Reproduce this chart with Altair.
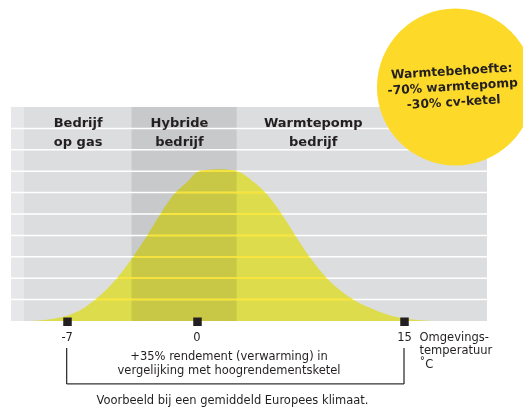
import altair as alt
import numpy as np
import pandas as pd

# ---- values ----
curve_temp = [-8.97, -7.17, -6.27, -5.46, -4.29, -3.42, -2.66, -1.95, -1.14, -0.50, 0.17, 1.73,
              2.94, 4.13, 4.98, 6.16, 7.14, 8.17, 9.43, 11.33, 13.04, 14.34, 17.1]
curve_freq = [0.0, 0.2, 0.5, 1.0, 2.0, 3.0, 4.0, 5.0, 6.0, 6.5, 7.0, 7.09,
              7.0, 6.5, 6.0, 5.0, 4.0, 3.0, 2.0, 1.0, 0.48, 0.2, 0.0]
tick_values = [-7, 0, 15]
grid_levels = [1, 2, 3, 4, 5, 6, 7, 8, 9]
band_start, band_end = -10, 21
strip_end = -9.3
hybrid_start, hybrid_end = -3.5, 2.9
zone_labels = ["Bedrijf\nop gas", "Hybride\nbedrijf", "Warmtepomp\nbedrijf"]
zone_label_temp = [-6.38, -0.92, 8.44]
bubble_text = "Warmtebehoefte:\n-70% warmtepomp\n-30% cv-ketel"
axis_title = ["Omgevings-", "temperatuur", "˚C"]
note_text = "+35% rendement (verwarming) in\nvergelijking met hoogrendementsketel"
footer_text = "Voorbeeld bij een gemiddeld Europees klimaat."

INK = "#231F20"
FONT = "DejaVu Sans"

xs = alt.Scale(domain=[band_start, 0, band_end], range=[0, 185.5, 476], nice=False, zero=False)
ys = alt.Scale(domain=[0, 10], nice=False, zero=False)

x_axis = alt.Axis(
    values=tick_values, orient="bottom", offset=-4, domain=False, grid=False,
    ticks=True, tickSize=8.5, tickWidth=8.5, tickColor=INK, tickCap="butt",
    labelExpr="'' + datum.value", labelFont=FONT, labelFontSize=11.5, labelColor=INK,
    labelPadding=6, title=axis_title, titleFont=FONT, titleFontSize=11.5,
    titleFontWeight="normal", titleColor=INK, titleAlign="left", titleBaseline="top",
    titleX=408, titleY=14, titleAngle=0, titleLineHeight=13.5, zindex=1)


def X(field="x"):
    return alt.X(field, type="quantitative", scale=xs, axis=x_axis)


def Y(field="y"):
    return alt.Y(field, type="quantitative", scale=ys, axis=None)


curve_df = pd.DataFrame({"x": curve_temp, "y": curve_freq})

# gold segments where gridlines pass under the curve
t = np.array(curve_temp)
f = np.array(curve_freq)
ip = int(np.argmax(f))
segs = []
for lv in grid_levels:
    if lv < f.max():
        xl = float(np.interp(lv, f[:ip + 1], t[:ip + 1]))
        xr = float(np.interp(lv, f[ip:][::-1], t[ip:][::-1]))
        segs.append({"x": xl + 0.06, "x2": xr - 0.06, "y": lv})
seg_df = pd.DataFrame(segs)

band = alt.Chart(pd.DataFrame({"x": [band_start], "x2": [band_end], "y": [0], "y2": [10]})).mark_rect(
    color="#DCDDDE").encode(x=X(), x2="x2:Q", y=Y(), y2="y2:Q")

strip = alt.Chart(pd.DataFrame({"x": [band_start], "x2": [strip_end], "y": [0], "y2": [10]})).mark_rect(
    color="#E6E7E8").encode(x=X(), x2="x2:Q", y=Y(), y2="y2:Q")

hybrid = alt.Chart(pd.DataFrame({"x": [hybrid_start], "x2": [hybrid_end], "y": [0], "y2": [10]})).mark_rect(
    color="#C8C9CA").encode(x=X(), x2="x2:Q", y=Y(), y2="y2:Q")

grid = alt.Chart(pd.DataFrame({"y": grid_levels, "x": band_start, "x2": band_end})).mark_rule(
    color="white", strokeWidth=1.5).encode(x=X(), x2="x2:Q", y=Y())

area = alt.Chart(curve_df).mark_area(interpolate="monotone", color="#FFFE58", blend="multiply").encode(
    x=X(), y=Y())

gold = alt.Chart(seg_df).mark_rule(color="#F9E23A", strokeWidth=1.5).encode(x=X(), x2="x2:Q", y=Y())

headers = alt.Chart(pd.DataFrame({"label": zone_labels, "x": zone_label_temp, "y": 9.27})).mark_text(
    font=FONT, fontSize=13, fontWeight="bold", color=INK, lineBreak="\n", lineHeight=19,
    align="center", baseline="middle").encode(x=X(), y=Y(), text="label:N")

bubble = alt.Chart(pd.DataFrame({"x": [18.72], "y": [10.93]})).mark_circle(
    size=24649, color="#FDDA2A", opacity=1).encode(x=X(), y=Y())

bubble_lbl = alt.Chart(pd.DataFrame({"x": [18.45], "y": [11.68], "label": [bubble_text]})).mark_text(
    font=FONT, fontSize=12.3, fontWeight="bold", color=INK, lineBreak="\n", lineHeight=15.5,
    align="center", baseline="middle", angle=356.5).encode(x=X(), y=Y(), text="label:N")

brk_v = alt.Chart(pd.DataFrame({"x": [tick_values[0], tick_values[-1]], "y": -1.26, "y2": -2.94})).mark_rule(
    color="#333333", strokeWidth=1.3).encode(x=X(), y=Y(), y2="y2:Q")
brk_h = alt.Chart(pd.DataFrame({"x": [tick_values[0]], "x2": [tick_values[-1]], "y": [-2.94]})).mark_rule(
    color="#333333", strokeWidth=1.3).encode(x=X(), x2="x2:Q", y=Y())

note = alt.Chart(pd.DataFrame({"x": [2.35], "y": [-1.70], "label": [note_text]})).mark_text(
    font=FONT, fontSize=11.5, color=INK, lineBreak="\n", lineHeight=13.7,
    align="center", baseline="middle").encode(x=X(), y=Y(), text="label:N")

footer = alt.Chart(pd.DataFrame({"x": [2.6], "y": [-3.74], "label": [footer_text]})).mark_text(
    font=FONT, fontSize=11.5, color=INK, align="center", baseline="middle").encode(
    x=X(), y=Y(), text="label:N")

chart = alt.layer(band, strip, hybrid, grid, area, gold, headers, bubble, bubble_lbl,
                  brk_v, brk_h, note, footer).properties(
    width=476, height=214,
    autosize=alt.AutoSizeParams(type="none"),
    padding={"left": 3, "top": 99, "right": 36, "bottom": 86},
    background="white",
).configure_view(stroke=None)

chart.save("out.html", embed_options={"renderer": "svg", "actions": False})
